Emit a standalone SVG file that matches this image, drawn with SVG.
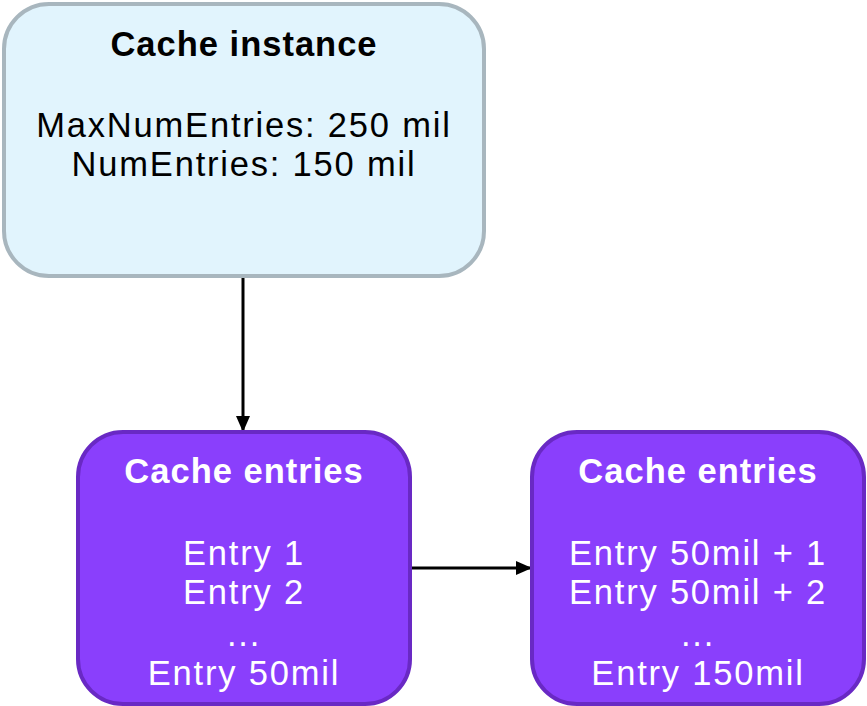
<svg xmlns="http://www.w3.org/2000/svg" width="867" height="706" viewBox="0 0 867 706">
  <defs>
    <marker id="arrow" viewBox="0 0 16 14" refX="16" refY="7" markerWidth="16" markerHeight="14" orient="auto" markerUnits="userSpaceOnUse">
      <path d="M0,0 L16,7 L0,14 z" fill="#000"/>
    </marker>
    <style>
      .instance { fill: #e1f4fd; stroke: #a8b6be; stroke-width: 4; }
      .entries { fill: #8a3ffc; stroke: #6929c4; stroke-width: 4; }
      text { font-family: "Liberation Sans", Arial, sans-serif; font-size: 34.5px; letter-spacing: 1.8px; text-anchor: middle; }
      .title { font-weight: bold; letter-spacing: 1px; }
      .dark { fill: #000; }
      .light { fill: #fff; }
      .edge { fill: none; stroke: #000; stroke-width: 3; marker-end: url(#arrow); }
    </style>
  </defs>

  <g id="connectors">
    <line class="edge" x1="243" y1="278" x2="243" y2="432"/>
    <line class="edge" x1="410" y1="568" x2="532" y2="568"/>
  </g>

  <g id="cache-instance">
    <rect class="instance" x="4" y="4" width="480" height="272" rx="45" ry="45"/>
    <text class="title dark" x="244" y="56">Cache instance</text>
    <text class="dark" x="244" y="137">MaxNumEntries: 250 mil</text>
    <text class="dark" x="244" y="176">NumEntries: 150 mil</text>
  </g>

  <g id="entries-first">
    <rect class="entries" x="78" y="432" width="332" height="272" rx="45" ry="45"/>
    <text class="title light" x="244" y="483">Cache entries</text>
    <text class="light" x="244" y="565">Entry 1</text>
    <text class="light" x="244" y="604">Entry 2</text>
    <text class="light" x="244" y="646">...</text>
    <text class="light" x="244" y="685">Entry 50mil</text>
  </g>

  <g id="entries-second">
    <rect class="entries" x="532" y="432" width="332" height="272" rx="45" ry="45"/>
    <text class="title light" x="698" y="483">Cache entries</text>
    <text class="light" x="698" y="565">Entry 50mil + 1</text>
    <text class="light" x="698" y="604">Entry 50mil + 2</text>
    <text class="light" x="698" y="646">...</text>
    <text class="light" x="698" y="685">Entry 150mil</text>
  </g>
</svg>
